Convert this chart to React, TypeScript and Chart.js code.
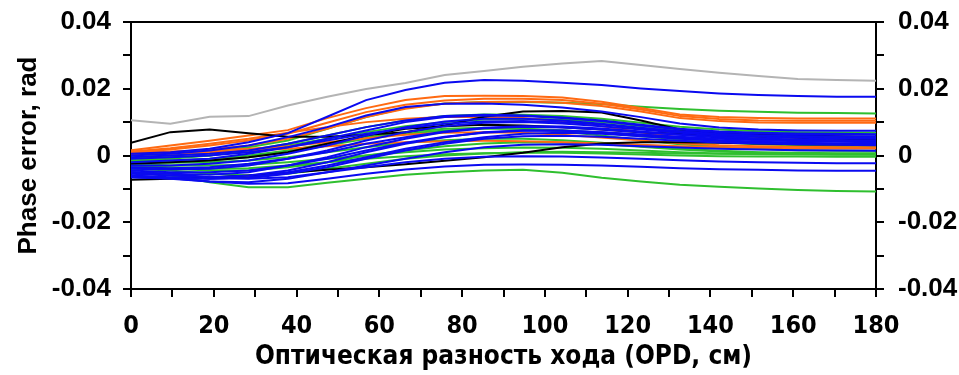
import React, { useEffect, useRef } from "react";
import { Chart, registerables } from "chart.js";

Chart.register(...registerables);

// OPD positions (cm) of the sampled points
const OPD = [0, 9.5, 19, 28.4, 37.9, 47.4, 56.8, 66.3, 75.8, 85.3, 94.7, 104.2, 113.7, 123.2, 132.6, 142.1, 151.6, 161.1, 170.5, 180];

// Phase error values in mrad (converted to rad when plotted)
const gray1 = [10.6, 9.5, 11.6, 11.8, 15.0, 17.6, 19.9, 21.7, 24.1, 25.3, 26.6, 27.6, 28.3, 27.1, 25.9, 24.8, 23.8, 22.9, 22.6, 22.4];

const blue1 = [0.5, 1.0, 2.0, 4.0, 6.7, 11.6, 16.6, 19.6, 21.8, 22.6, 22.4, 21.8, 21.1, 20.1, 19.3, 18.6, 18.1, 17.8, 17.6, 17.6];
const blue2 = [0.0, 0.5, 1.5, 3.0, 5.5, 8.5, 12.0, 14.5, 15.5, 15.6, 15.2, 14.4, 13.2, 11.5, 9.6, 8.4, 7.8, 7.5, 7.4, 7.4];
const blue3 = [-2.0, -1.5, -1.0, 0.5, 2.5, 5.0, 7.5, 10.0, 11.5, 12.0, 11.8, 11.2, 10.3, 9.0, 7.8, 7.0, 6.6, 6.4, 6.3, 6.2];
const blue4 = [-3.0, -3.0, -2.5, -1.5, 0.5, 3.0, 6.0, 8.5, 10.2, 11.0, 11.0, 10.5, 9.5, 8.3, 7.2, 6.4, 6.0, 5.8, 5.6, 5.5];
const blue5 = [-4.0, -4.2, -4.0, -3.0, -1.0, 1.5, 4.5, 7.0, 8.8, 9.8, 10.0, 9.6, 8.8, 7.8, 6.8, 6.0, 5.6, 5.3, 5.1, 5.0];
const blue6 = [-5.0, -5.5, -5.8, -5.0, -3.0, -0.5, 2.5, 5.0, 7.0, 8.2, 8.6, 8.4, 7.8, 7.0, 6.2, 5.6, 5.1, 4.8, 4.6, 4.5];
const blue7 = [-5.5, -6.0, -6.5, -6.0, -4.5, -2.0, 1.0, 3.5, 5.5, 7.0, 7.6, 7.5, 7.0, 6.3, 5.6, 5.0, 4.6, 4.3, 4.1, 4.0];
const blue8 = [-6.0, -6.5, -7.0, -6.8, -5.5, -3.5, -1.0, 1.5, 3.5, 5.0, 5.8, 5.9, 5.6, 5.0, 4.4, 3.9, 3.6, 3.4, 3.2, 3.1];
const blue9 = [-6.5, -7.0, -7.8, -8.0, -7.0, -5.0, -3.0, -1.0, 1.0, 2.5, 3.2, 3.4, 3.2, 2.8, 2.4, 2.0, 1.8, 1.6, 1.5, 1.4];
const blue10 = [-6.0, -6.8, -7.8, -8.5, -8.3, -7.0, -5.5, -4.2, -3.3, -2.8, -2.7, -2.8, -3.0, -3.4, -3.8, -4.1, -4.3, -4.5, -4.6, -4.6];
const blue11 = [-5.0, -5.5, -6.5, -7.0, -6.5, -5.0, -3.5, -2.0, -1.0, -0.4, -0.2, -0.3, -0.6, -1.0, -1.4, -1.8, -2.0, -2.2, -2.3, -2.3];
const blue12 = [-1.0, -0.5, 0.0, 1.0, 2.5, 4.5, 6.5, 8.2, 9.5, 10.2, 10.3, 10.0, 9.3, 8.2, 7.2, 6.5, 6.0, 5.8, 5.7, 5.6];
const blue13 = [-3.5, -3.8, -3.5, -2.5, -1.0, 1.0, 3.5, 5.5, 7.2, 8.3, 8.8, 8.7, 8.1, 7.2, 6.2, 5.4, 4.9, 4.6, 4.4, 4.3];
const blue14 = [-4.5, -5.0, -5.0, -4.5, -3.0, -1.0, 1.5, 3.8, 5.6, 6.8, 7.4, 7.4, 7.0, 6.2, 5.3, 4.6, 4.1, 3.8, 3.6, 3.5];
const blue15 = [-0.5, 0.0, 0.5, 1.5, 3.5, 6.0, 8.5, 10.5, 11.8, 12.2, 12.0, 11.4, 10.5, 9.2, 8.0, 7.2, 6.8, 6.6, 6.5, 6.4];
const blue16 = [-6.5, -6.8, -7.0, -6.5, -5.0, -3.0, -0.5, 2.0, 4.0, 5.5, 6.5, 6.8, 6.5, 5.8, 5.0, 4.4, 4.0, 3.7, 3.5, 3.4];

const black1 = [3.8, 7.0, 7.8, 6.7, 5.6, 5.6, 6.2, 7.0, 9.0, 11.6, 13.2, 13.3, 12.9, 10.5, 7.8, 6.8, 6.3, 6.0, 5.8, 5.6];
const black2 = [-7.3, -7.0, -6.6, -6.0, -5.2, -4.3, -3.5, -2.6, -1.6, -0.5, 0.8, 2.5, 3.6, 4.0, 4.0, 3.8, 3.6, 3.4, 3.3, 3.2];
const black3 = [-2.5, -2.0, -1.5, -0.5, 1.0, 3.5, 6.0, 8.0, 8.8, 9.2, 9.0, 8.5, 7.8, 7.0, 6.5, 6.0, 5.6, 5.3, 5.0, 4.8];

const green1 = [-0.5, 0.0, 1.0, 2.5, 4.5, 8.0, 11.5, 14.2, 15.6, 16.0, 16.0, 15.8, 15.4, 14.6, 13.9, 13.4, 13.1, 12.8, 12.7, 12.6];
const green2 = [-1.0, -0.5, 0.0, 1.5, 3.5, 6.0, 8.5, 10.5, 11.8, 12.3, 12.2, 11.8, 11.0, 9.8, 8.6, 7.8, 7.3, 7.0, 6.9, 6.8];
const green3 = [-1.5, -1.5, -1.0, 0.0, 1.5, 3.5, 5.5, 7.0, 8.0, 8.3, 8.0, 7.2, 6.0, 4.6, 3.4, 2.6, 2.0, 1.6, 1.4, 1.4];
const green4 = [-2.0, -2.2, -2.0, -1.5, -0.5, 1.0, 2.5, 3.8, 4.6, 5.0, 5.0, 4.6, 3.8, 2.8, 2.0, 1.4, 1.0, 0.8, 0.7, 0.7];
const green5 = [-2.5, -3.0, -3.0, -2.8, -2.0, -1.0, 0.0, 1.0, 1.8, 2.2, 2.4, 2.3, 2.0, 1.5, 1.0, 0.6, 0.4, 0.3, 0.2, 0.2];
const green6 = [-3.0, -3.5, -4.0, -3.8, -3.0, -2.0, -1.0, -0.2, 0.4, 0.7, 0.8, 0.8, 0.6, 0.3, 0.0, -0.2, -0.3, -0.3, -0.4, -0.4];
const green7 = [-5.0, -6.0, -8.0, -9.5, -9.5, -8.2, -7.0, -5.8, -5.0, -4.5, -4.3, -5.2, -6.7, -7.8, -8.8, -9.4, -9.9, -10.3, -10.6, -10.8];
const green8 = [-2.0, -2.0, -1.5, -0.5, 1.0, 3.0, 5.0, 6.5, 7.5, 8.0, 8.0, 7.6, 6.8, 5.8, 4.8, 4.0, 3.4, 3.0, 2.8, 2.7];
const green9 = [-3.5, -4.0, -4.5, -4.5, -3.5, -2.0, 0.0, 1.5, 2.8, 3.6, 4.0, 3.9, 3.4, 2.6, 1.8, 1.2, 0.8, 0.5, 0.4, 0.3];
const green10 = [-4.0, -4.5, -5.5, -6.0, -5.5, -4.0, -2.5, -1.0, 0.0, 0.6, 1.0, 1.1, 1.0, 0.8, 0.6, 0.5, 0.5, 0.5, 0.5, 0.5];
const green11 = [-1.5, -1.0, 0.0, 1.5, 3.0, 5.0, 7.0, 8.8, 10.0, 10.8, 11.0, 10.8, 10.0, 8.8, 7.6, 6.8, 6.2, 5.8, 5.6, 5.5];

const orange1 = [1.6, 3.0, 4.4, 6.0, 7.6, 11.2, 14.2, 16.6, 17.8, 17.9, 17.8, 17.4, 16.1, 14.2, 12.3, 11.5, 11.2, 11.1, 11.1, 11.1];
const orange2 = [1.0, 1.8, 3.0, 4.5, 6.5, 9.8, 13.0, 15.2, 16.5, 17.0, 17.0, 16.6, 15.5, 13.8, 11.8, 10.9, 10.5, 10.4, 10.4, 10.4];
const orange3 = [0.6, 1.0, 1.8, 3.0, 5.0, 8.0, 11.5, 14.0, 15.6, 16.0, 16.2, 15.8, 14.8, 13.2, 11.2, 10.3, 9.9, 9.8, 9.8, 9.8];
const orange4 = [0.8, 1.2, 1.5, 2.0, 2.8, 4.0, 5.2, 6.2, 6.8, 7.0, 6.8, 6.2, 5.4, 4.5, 3.7, 3.1, 2.8, 2.6, 2.5, 2.5];
const orange5 = [1.2, 2.2, 3.5, 5.0, 6.8, 8.5, 10.0, 11.0, 11.5, 11.6, 11.2, 10.2, 8.8, 7.0, 5.4, 4.4, 3.8, 3.5, 3.3, 3.2];
const orange6 = [0.2, 0.5, 1.0, 1.5, 2.0, 2.8, 3.5, 4.0, 4.3, 4.4, 4.3, 4.0, 3.6, 3.2, 2.8, 2.5, 2.3, 2.2, 2.1, 2.1];

const X_TICK_LABELS = ["0", "20", "40", "60", "80", "100", "120", "140", "160", "180"];
const Y_TICK_LABELS = ["-0.04", "-0.02", "0", "0.02", "0.04"];

const BLUE = "#0a0af0";
const BLACK = "#000000";
const GREEN = "#2fbf2f";
const ORANGE = "#ff6a12";
const GRAY = "#b4b4b4";

const SERIES: [number[], string][] = [
  [blue1, BLUE], [blue2, BLUE], [blue3, BLUE], [blue4, BLUE], [blue5, BLUE], [blue6, BLUE],
  [blue7, BLUE], [blue8, BLUE], [blue9, BLUE], [blue10, BLUE], [blue11, BLUE], [blue12, BLUE],
  [blue13, BLUE], [blue14, BLUE], [blue15, BLUE], [blue16, BLUE],
  [black1, BLACK], [black2, BLACK], [black3, BLACK],
  [orange1, ORANGE], [orange2, ORANGE], [orange3, ORANGE], [orange4, ORANGE], [orange5, ORANGE], [orange6, ORANGE],
  [green1, GREEN], [green2, GREEN], [green3, GREEN], [green4, GREEN], [green5, GREEN], [green6, GREEN],
  [green7, GREEN], [green8, GREEN], [green9, GREEN], [green10, GREEN], [green11, GREEN],
  [gray1, GRAY],
];

const SANS = "'Liberation Sans', Arial, sans-serif";
const NARROW = "'Liberation Sans Narrow', 'DejaVu Sans Condensed', 'Liberation Sans', sans-serif";

function xLabel(v: number): string {
  const r = Math.round(v);
  const s = String(r);
  return X_TICK_LABELS.includes(s) ? s : "";
}

function yLabel(v: number): string {
  const r = Math.round(v * 100);
  if (r % 2 !== 0) return "";
  const s = r === 0 ? "0" : (r / 100).toFixed(2);
  return Y_TICK_LABELS.includes(s) ? s : "";
}

export default function App() {
  const ref = useRef<HTMLCanvasElement | null>(null);

  useEffect(() => {
    if (!ref.current) return;
    const datasets = SERIES.map(([vals, color], i) => ({
      label: "s" + i,
      data: vals.map((v, k) => ({ x: OPD[k], y: v / 1000 })),
      borderColor: color,
      backgroundColor: color,
      borderWidth: 2,
      pointRadius: 0,
      tension: 0,
      fill: false,
    }));

    const tickGrid = {
      drawOnChartArea: false,
      drawTicks: true,
      tickLength: 8,
      color: "#000",
      lineWidth: 2,
    };
    const border = { display: true, color: "#000", width: 2 };

    const chart = new Chart(ref.current, {
      type: "line",
      data: { datasets },
      options: {
        animation: false,
        responsive: false,
        devicePixelRatio: 1,
        layout: { padding: 0 },
        plugins: { legend: { display: false }, tooltip: { enabled: false } },
        scales: {
          x: {
            type: "linear",
            position: "bottom",
            min: 0,
            max: 180,
            ticks: {
              stepSize: 10,
              autoSkip: false,
              maxRotation: 0,
              padding: 14,
              color: "#000",
              font: { family: NARROW, size: 25, weight: "bold" },
              callback: (v: any) => xLabel(Number(v)),
            },
            grid: tickGrid,
            border,
            title: {
              display: true,
              text: "Оптическая разность хода (OPD, см)",
              color: "#000",
              font: { family: NARROW, size: 26, weight: "bold" },
              padding: { top: 0, bottom: 2 },
            },
            afterFit: (s: any) => { s.height = 86; s.paddingLeft = 0; s.paddingRight = 0; },
          },
          xTop: {
            type: "linear",
            position: "top",
            min: 0,
            max: 180,
            ticks: { display: false },
            grid: { display: false },
            border,
            afterFit: (s: any) => { s.height = 22; },
          },
          y: {
            type: "linear",
            position: "left",
            min: -0.04,
            max: 0.04,
            ticks: {
              stepSize: 0.01,
              autoSkip: false,
              padding: 12,
              color: "#000",
              font: { family: SANS, size: 26, weight: "bold" },
              callback: (v: any) => yLabel(Number(v)),
            },
            grid: tickGrid,
            border,
            title: {
              display: true,
              text: "Phase error, rad",
              color: "#000",
              font: { family: SANS, size: 26, weight: "bold" },
              padding: { top: 13, bottom: 0 },
            },
            afterFit: (s: any) => { s.width = 131; s.paddingTop = 0; s.paddingBottom = 0; },
          },
          y2: {
            type: "linear",
            position: "right",
            min: -0.04,
            max: 0.04,
            ticks: {
              stepSize: 0.01,
              autoSkip: false,
              padding: 14,
              color: "#000",
              font: { family: SANS, size: 26, weight: "bold" },
              callback: (v: any) => yLabel(Number(v)),
            },
            grid: tickGrid,
            border,
            afterFit: (s: any) => { s.width = 83; s.paddingTop = 0; s.paddingBottom = 0; },
          },
        },
      },
    });
    return () => chart.destroy();
  }, []);

  return (
    <div style={{ position: "absolute", left: 0, top: 0, width: 959, height: 375, background: "#fff" }}>
      <canvas ref={ref} width={959} height={375} style={{ width: 959, height: 375, display: "block" }} />
    </div>
  );
}
